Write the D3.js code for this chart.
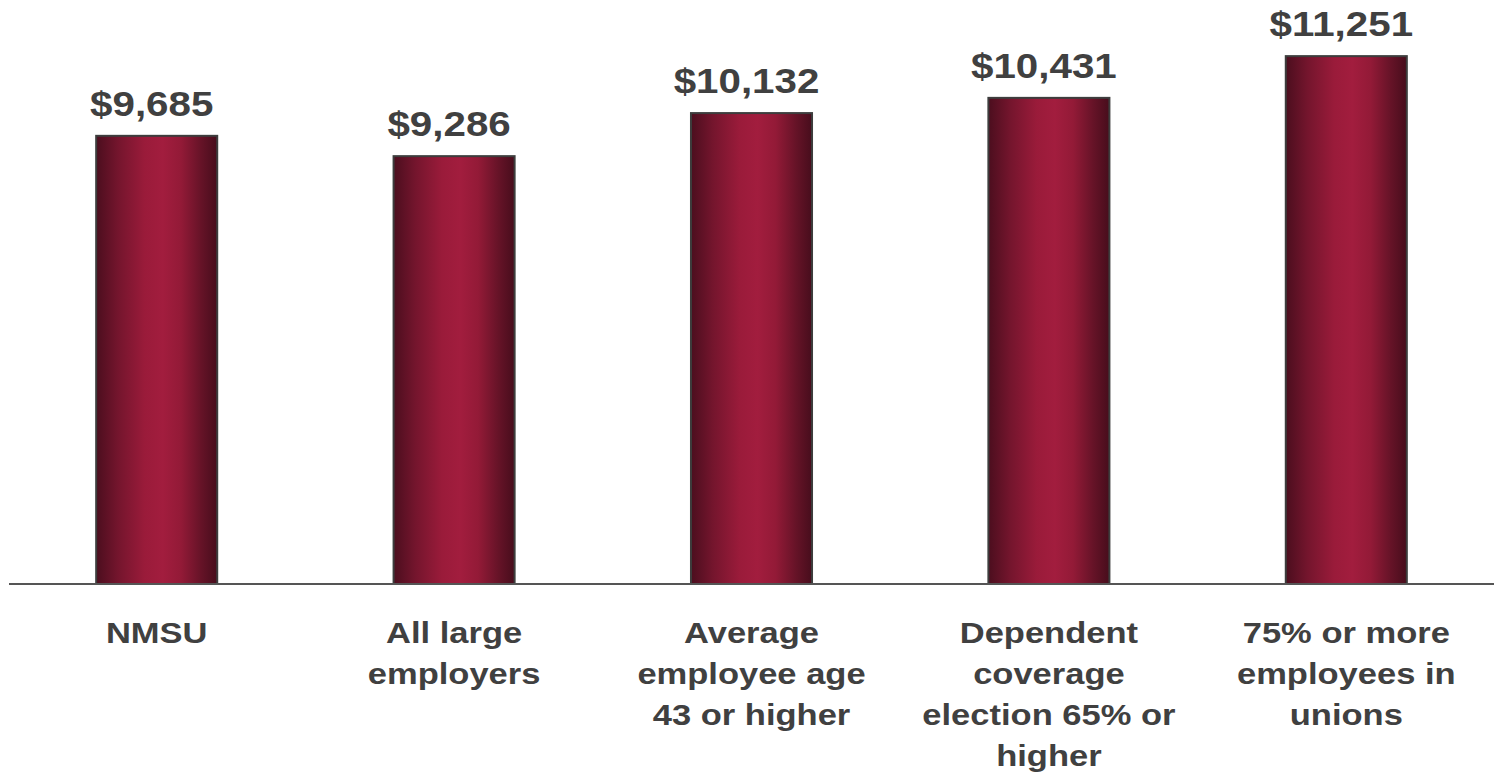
<!DOCTYPE html>
<html>
<head>
<meta charset="utf-8">
<script src="https://cdn.jsdelivr.net/npm/d3@7"></script>
<style>
  html, body { margin: 0; padding: 0; background: #fff; }
  svg { display: block; }
</style>
</head>
<body>
<svg id="chart" width="1494" height="774"></svg>
<script>
const categories = [
  ["NMSU"],
  ["All large", "employers"],
  ["Average", "employee age", "43 or higher"],
  ["Dependent", "coverage", "election 65% or", "higher"],
  ["75% or more", "employees in", "unions"]
];
const values = [9685, 9286, 10132, 10431, 11251];
const valueLabels = ["$9,685", "$9,286", "$10,132", "$10,431", "$11,251"];

const svg = d3.select("#chart");
const W = 1494, H = 774;
const baseY = 584;

const x = d3.scaleBand()
  .domain(d3.range(values.length))
  .range([8, 1495])
  .paddingInner(0.593)
  .paddingOuter(0.2965);

const y = d3.scaleLinear()
  .domain([880, 12000])
  .range([baseY, 18]);

const defs = svg.append("defs");
const grad = defs.append("linearGradient")
  .attr("id", "barGrad")
  .attr("x1", "0%").attr("x2", "100%").attr("y1", "0%").attr("y2", "0%");
[
  [0, "#4b0e1e"], [0.18, "#74152d"], [0.4, "#9a1b3a"], [0.55, "#a21d3e"],
  [0.7, "#931a37"], [0.87, "#651327"], [1, "#470d1c"]
].forEach(([o, c]) => grad.append("stop").attr("offset", o).attr("stop-color", c));

// bars
svg.append("g").selectAll("rect")
  .data(values)
  .join("rect")
  .attr("x", (d, i) => x(i))
  .attr("y", d => y(d))
  .attr("width", x.bandwidth())
  .attr("height", d => baseY - y(d))
  .attr("fill", "url(#barGrad)")
  .attr("stroke", "#3d3d3d")
  .attr("stroke-width", 2);

// baseline
svg.append("line")
  .attr("x1", 9).attr("x2", W)
  .attr("y1", baseY).attr("y2", baseY)
  .attr("stroke", "#555")
  .attr("stroke-width", 2);

// value labels
svg.append("g").selectAll("text")
  .data(values)
  .join("text")
  .attr("transform", (d, i) => `translate(${x(i) + x.bandwidth() / 2 - 5},${y(d) - 20}) scale(1.12,1)`)
  .attr("text-anchor", "middle")
  .attr("font-family", "Liberation Sans, Arial, sans-serif")
  .attr("font-weight", "bold")
  .attr("font-size", 36)
  .attr("fill", "#404040")
  .text((d, i) => valueLabels[i]);

// category labels
const cat = svg.append("g").selectAll("g")
  .data(categories)
  .join("g")
  .attr("transform", (d, i) => `translate(${x(i) + x.bandwidth() / 2},643) scale(1.17,1)`);
cat.selectAll("text")
  .data(d => d)
  .join("text")
  .attr("x", 0)
  .attr("y", (d, j) => j * 41)
  .attr("text-anchor", "middle")
  .attr("font-family", "Liberation Sans, Arial, sans-serif")
  .attr("font-weight", "bold")
  .attr("font-size", 29.5)
  .attr("fill", "#404040")
  .text(d => d);
</script>
</body>
</html>
